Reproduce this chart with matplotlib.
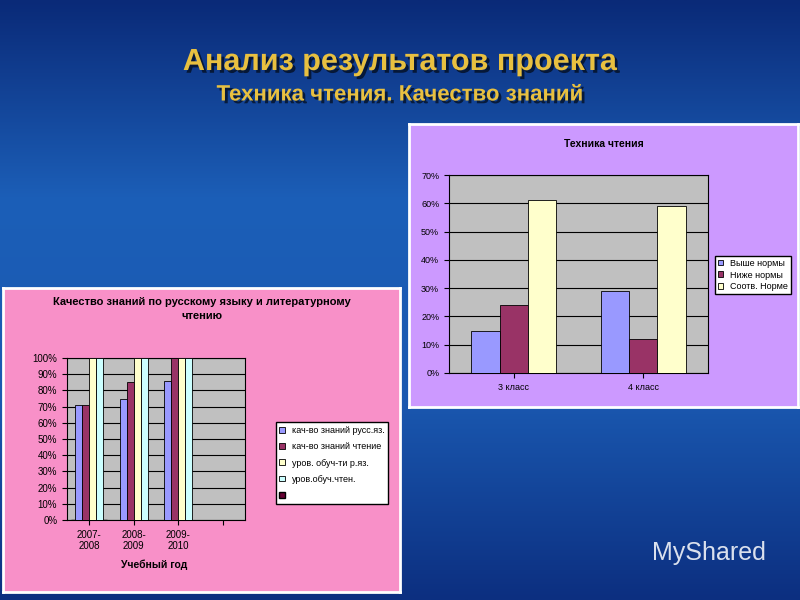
import numpy as np
import matplotlib
matplotlib.use("Agg")
import matplotlib.pyplot as plt
import matplotlib.patheffects as pe
from matplotlib.colors import LinearSegmentedColormap

plt.rcParams["font.family"] = "Liberation Sans"

# Left chart data
years = ["2007-\n2008", "2008-\n2009", "2009-\n2010", ""]
rus_quality = [71, 75, 86, 0]
read_quality = [71, 85, 100, 0]
rus_level = [100, 100, 100, 0]
read_level = [100, 100, 100, 0]
left_labels = ["кач-во знаний русс.яз.", "кач-во знаний чтение", "уров. обуч-ти р.яз.", "уров.обуч.чтен.", " "]

# Right chart data
grades = ["3 класс", "4 класс"]
above = [15, 29]
below = [24, 12]
norm = [61, 59]
right_labels = ["Выше нормы", "Ниже нормы", "Соотв. Норме"]

W, H = 800, 600
fig = plt.figure(figsize=(8, 6), dpi=100)

def rect(x, y, w, h):
    return [x / W, 1 - (y + h) / H, w / W, h / H]

bg = fig.add_axes([0, 0, 1, 1])
grad = np.linspace(0, 1, 256).reshape(-1, 1)
cmap = LinearSegmentedColormap.from_list("bg", ["#0a2a78", "#1c5fb8", "#1a58b0", "#0c2f80"])
bg.imshow(grad, aspect="auto", cmap=cmap, extent=[0, 1, 0, 1])
bg.axis("off")

sh = [pe.SimplePatchShadow(offset=(2, -2), shadow_rgbFace="black", alpha=0.6), pe.Normal()]
fig.text(0.5, 1 - 62 / H, "Анализ результатов проекта", ha="center", va="center",
         fontsize=22, fontweight="bold", color="#e8c040", path_effects=sh)
fig.text(0.5, 1 - 95 / H, "Техника чтения. Качество знаний", ha="center", va="center",
         fontsize=16, fontweight="bold", color="#e8c040", path_effects=sh)

# Left panel
pl = fig.add_axes(rect(3, 288, 397, 304))
pl.set_facecolor("#f890c8")
pl.set_xticks([]); pl.set_yticks([])
for s in pl.spines.values():
    s.set_color("#ffffff"); s.set_linewidth(2)
pl.text(0.5, 0.93, "Качество знаний по русскому языку и литературному\nчтению",
        transform=pl.transAxes, ha="center", va="center", fontsize=8, fontweight="bold",
        linespacing=1.5)
pl.text(0.38, 0.09, "Учебный год", transform=pl.transAxes, ha="center", va="center",
        fontsize=7.5, fontweight="bold")

ax1 = fig.add_axes(rect(67, 358, 178, 162))
ax1.set_facecolor("#c0c0c0")
x = np.arange(len(years))
w = 0.16
cols = ["#9999ff", "#993366", "#ffffcc", "#ccffff"]
series = [rus_quality, read_quality, rus_level, read_level]
for i, (vals, c) in enumerate(zip(series, cols)):
    ax1.bar(x + (i - 1.5) * w, vals, w, color=c, edgecolor="black", linewidth=0.6,
            label=left_labels[i], zorder=3)
ax1.bar([0], [0], color="#660033", edgecolor="black", label=left_labels[4])
ax1.set_xlim(-0.5, 3.5)
ax1.set_ylim(0, 100)
ax1.set_yticks(range(0, 101, 10))
ax1.set_yticklabels([f"{v}%" for v in range(0, 101, 10)], fontsize=7)
ax1.set_xticks(x)
ax1.set_xticklabels(years, fontsize=7)
ax1.yaxis.grid(True, color="black", linewidth=0.8, zorder=0)
ax1.set_axisbelow(True)
leg1 = pl.legend(*ax1.get_legend_handles_labels(), loc="center",
                 bbox_to_anchor=((332 - 3) / 397, 1 - (463 - 288) / 304),
                 fontsize=6.5, frameon=True, fancybox=False, edgecolor="black",
                 framealpha=1, handlelength=0.6, handleheight=0.6, labelspacing=0.8)
leg1.get_frame().set_facecolor("white")

# Right panel
pr = fig.add_axes(rect(409, 124, 389, 283))
pr.set_facecolor("#cc99ff")
pr.set_xticks([]); pr.set_yticks([])
for s in pr.spines.values():
    s.set_color("#ffffff"); s.set_linewidth(2)
pr.text(0.5, 0.93, "Техника чтения", transform=pr.transAxes, ha="center", va="center",
        fontsize=7.5, fontweight="bold")

ax2 = fig.add_axes(rect(449, 175, 259, 198))
ax2.set_facecolor("#c0c0c0")
x2 = np.arange(len(grades))
w2 = 0.22
for i, (vals, c, lab) in enumerate(zip([above, below, norm], cols[:3], right_labels)):
    ax2.bar(x2 + (i - 1) * w2, vals, w2, color=c, edgecolor="black", linewidth=0.6,
            label=lab, zorder=3)
ax2.set_xlim(-0.5, 1.5)
ax2.set_ylim(0, 70)
ax2.set_yticks(range(0, 71, 10))
ax2.set_yticklabels([f"{v}%" for v in range(0, 71, 10)], fontsize=6.5)
ax2.set_xticks(x2)
ax2.set_xticklabels(grades, fontsize=6.5)
ax2.yaxis.grid(True, color="black", linewidth=0.8, zorder=0)
ax2.set_axisbelow(True)
leg2 = pr.legend(*ax2.get_legend_handles_labels(), loc="center",
                 bbox_to_anchor=((753 - 409) / 389, 1 - (275 - 124) / 283),
                 fontsize=6.5, frameon=True, fancybox=False, edgecolor="black",
                 framealpha=1, handlelength=0.6, handleheight=0.6, labelspacing=0.3, borderpad=0.3)
leg2.get_frame().set_facecolor("white")

fig.text(0.815, 1 - 553 / H, "MyShared", fontsize=18, color="white", alpha=0.85,
         ha="left", va="center")

fig.savefig("out.png", dpi=100)
